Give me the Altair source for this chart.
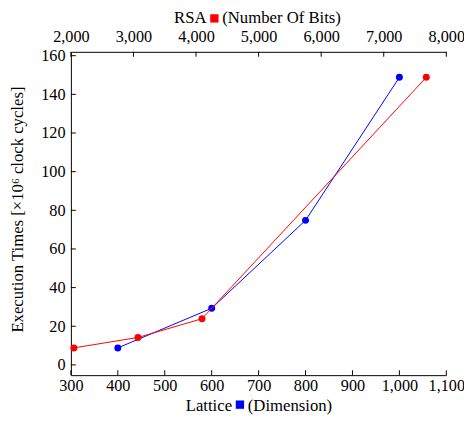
import altair as alt
import pandas as pd

# ---- data ----
rsa_bits = [2048, 3072, 4096, 7680]
rsa_times = [8.8, 14.2, 23.9, 148.8]
lat_dims = [400, 600, 800, 1000]
lat_times = [8.8, 29.3, 74.8, 148.8]

top_ticks = [2000, 3000, 4000, 5000, 6000, 7000, 8000]
bottom_ticks = [300, 400, 500, 600, 700, 800, 900, 1000, 1100]
y_ticks = [0, 20, 40, 60, 80, 100, 120, 140, 160]

W, H = 382, 329
PAD = {"left": 64, "top": 41, "right": 18, "bottom": 40}
FONT = "Liberation Serif, Times New Roman, serif"
FS = 17
LFS = 16.5
RED = "#ff0000"
BLUE = "#0000ff"

red_df = pd.DataFrame({"bits": rsa_bits, "time": rsa_times})
blue_df = pd.DataFrame({"dim": lat_dims, "time": lat_times})

common_axis = dict(title=None, ticks=False, tickSize=0, grid=False,
                   labelOverlap=False, labelFlush=False, labelBound=False)

y_enc = alt.Y(
    "time:Q",
    scale=alt.Scale(domain=[-5.3, 162], nice=False, zero=False),
    axis=alt.Axis(values=y_ticks, labelPadding=6, **common_axis),
)

x_top = alt.X(
    "bits:Q",
    scale=alt.Scale(domain=[2000, 8000], nice=False, zero=False),
    axis=alt.Axis(orient="top", values=top_ticks, format=",d", labelPadding=7, **common_axis),
)
x_bottom = alt.X(
    "dim:Q",
    scale=alt.Scale(domain=[300, 1100], nice=False, zero=False),
    axis=alt.Axis(orient="bottom", values=bottom_ticks, format=",d", labelPadding=3, **common_axis),
)

# blue (lattice) group -- bottom axis
blue_line = alt.Chart(blue_df).mark_line(color=BLUE, strokeWidth=1).encode(x=x_bottom, y=y_enc)
blue_pts = alt.Chart(blue_df).mark_circle(color=BLUE, size=50, opacity=1).encode(x=x_bottom, y=y_enc)
bottom_tick_rules = alt.Chart(pd.DataFrame({"dim": bottom_ticks})).mark_rule(
    color="black", strokeWidth=1).encode(x=x_bottom, y=alt.value(H), y2=alt.value(H - 5))
y_tick_rules = alt.Chart(pd.DataFrame({"time": y_ticks})).mark_rule(
    color="black", strokeWidth=1).encode(y=y_enc, x=alt.value(0), x2=alt.value(5))
blue_group = alt.layer(bottom_tick_rules, y_tick_rules, blue_line, blue_pts)

# red (RSA) group -- top axis
red_line = alt.Chart(red_df).mark_line(color=RED, strokeWidth=1).encode(x=x_top, y=y_enc)
red_pts = alt.Chart(red_df).mark_circle(color=RED, size=50, opacity=1).encode(x=x_top, y=y_enc)
top_tick_rules = alt.Chart(pd.DataFrame({"bits": top_ticks})).mark_rule(
    color="black", strokeWidth=1).encode(x=x_top, y=alt.value(0), y2=alt.value(5))
red_group = alt.layer(top_tick_rules, red_line, red_pts)

# titles
one = pd.DataFrame({"a": [0]})
def txt(s, x, y, align, angle=0):
    return alt.Chart(one).mark_text(text=s, align=align, baseline="alphabetic", font=FONT,
                                    fontSize=FS, color="black", angle=angle).encode(
        x=alt.value(x), y=alt.value(y))

def sq(color, x, y):
    return alt.Chart(one).mark_square(color=color, size=72, opacity=1).encode(
        x=alt.value(x), y=alt.value(y))

top_title = [txt("RSA", 138, -29, "right"), sq(RED, 146, -34), txt("(Number Of Bits)", 154, -29, "left")]
bot_title = [txt("Lattice", 164, 365, "right"), sq(BLUE, 172, 359), txt("(Dimension)", 180, 365, "left")]
y_title = alt.Chart(one).mark_text(text="Execution Times [×10⁶ clock cycles]", align="center",
                                   baseline="middle", font=FONT, fontSize=FS, color="black",
                                   angle=270).encode(x=alt.value(-54), y=alt.value(H / 2 - 4))

chart = alt.layer(blue_group, red_group, *top_title, *bot_title, y_title).resolve_scale(
    x="independent"
).properties(
    width=W, height=H,
    autosize=alt.AutoSizeParams(type="none"),
    padding=PAD,
).configure_view(stroke=None).configure_axis(
    domainColor="black", domainWidth=1, labelFont=FONT, labelFontSize=LFS, labelColor="black",
)

chart.save("out.html", embed_options={"renderer": "svg", "actions": False})
